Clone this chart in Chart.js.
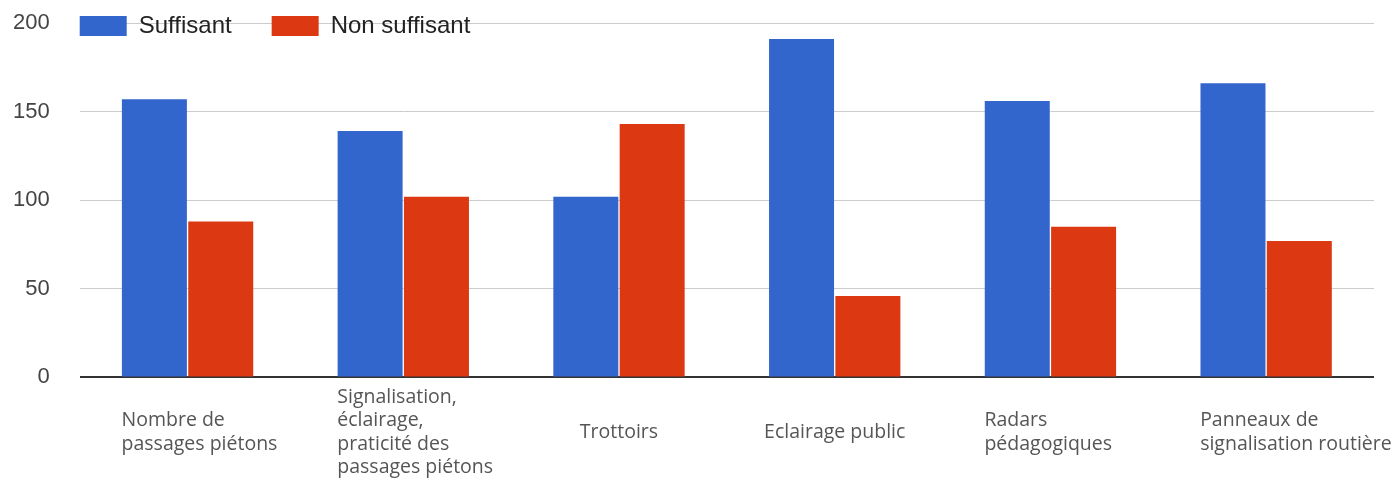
<!DOCTYPE html>
<html>
<head>
<meta charset="utf-8">
<script src="https://cdn.jsdelivr.net/npm/chart.js@4"></script>
<style>
  html, body { margin: 0; padding: 0; background: #fff; }
  #wrap { width: 1399px; height: 481px; position: relative; }
</style>
</head>
<body>
<div id="wrap"><canvas id="chart"></canvas></div>
<script>
const categories = [
  ['Nombre de', 'passages piétons'],
  ['Signalisation,', 'éclairage,', 'praticité des', 'passages piétons'],
  ['Trottoirs'],
  ['Eclairage public'],
  ['Radars', 'pédagogiques'],
  ['Panneaux de', 'signalisation routière']
];
const suffisant = [157, 139, 102, 191, 156, 166];
const nonSuffisant = [88, 102, 143, 46, 85, 77];
const yTicks = [0, 50, 100, 150, 200];

const LABEL_SHIFT = 66;

// legend takes no room and sits on the 200 gridline, inside the plot
const legendNudge = {
  id: 'legendNudge',
  beforeLayout(chart) {
    const lg = chart.legend;
    if (lg && !lg._nudged) {
      const fit = lg.fit;
      lg.fit = function () {
        fit.call(this);
        this._realHeight = this.height;
        this.height = 0;
      };
      lg._nudged = true;
    }
  },
  afterLayout(chart) {
    const lg = chart.legend;
    const pad = lg.options.labels.padding;
    lg.left = chart.chartArea.left - pad;
    lg.right = chart.width;
    lg.top = 26 - pad - 24 / 2;
    lg.bottom = lg.top + lg._realHeight;
    lg.width = lg.right - lg.left;
    lg.height = lg._realHeight;
  }
};

// multi-line labels start at the bar edge, single-line ones are centred
function fitX(s) {
  s.paddingLeft = 0;
  s.paddingRight = 0;
  if (s._labelsWrapped) return;
  const orig = s._computeLabelItems;
  s._computeLabelItems = function (area) {
    const items = orig.call(this, area);
    items.forEach((it, i) => {
      if (categories[i] && categories[i].length === 1) {
        it.options.textAlign = 'center';
        it.options.translation[0] += LABEL_SHIFT;
      }
    });
    return items;
  };
  s._labelsWrapped = true;
}

new Chart(document.getElementById('chart'), {
  type: 'bar',
  data: {
    labels: categories,
    datasets: [{
      label: 'Suffisant',
      data: suffisant,
      backgroundColor: '#3366cc',
      categoryPercentage: 0.615,
      barPercentage: 0.98
    }, {
      label: 'Non suffisant',
      data: nonSuffisant,
      backgroundColor: '#dc3912',
      categoryPercentage: 0.615,
      barPercentage: 0.98
    }]
  },
  options: {
    responsive: true,
    maintainAspectRatio: false,
    animation: false,
    layout: { padding: { left: -17, right: 25, top: 23, bottom: -22 } },
    plugins: {
      legend: {
        position: 'top',
        align: 'start',
        labels: {
          boxWidth: 47,
          boxHeight: 20,
          padding: 40,
          color: '#222',
          font: { family: 'Liberation Sans, Arial', size: 24 }
        }
      },
      tooltip: { enabled: false }
    },
    scales: {
      x: {
        grid: { display: false },
        border: { display: false },
        afterFit: fitX,
        ticks: {
          autoSkip: false,
          maxRotation: 0,
          align: 'start',
          crossAlign: 'center',
          labelOffset: -LABEL_SHIFT,
          padding: 12,
          color: '#555',
          font: { family: 'Open Sans', size: 19.5, lineHeight: 1.2 }
        }
      },
      y: {
        min: 0,
        max: 200,
        afterBuildTicks: axis => { axis.ticks = yTicks.map(v => ({ value: v })); },
        afterFit: s => { s.paddingTop = 0; s.paddingBottom = 0; },
        border: { display: false },
        grid: {
          drawTicks: false,
          color: c => c.tick && c.tick.value === 0 ? '#333' : '#cccccc',
          lineWidth: c => c.tick && c.tick.value === 0 ? 2 : 1
        },
        ticks: {
          padding: 30,
          color: '#444',
          font: { family: 'Liberation Sans, Arial', size: 22 }
        }
      }
    }
  },
  plugins: [legendNudge]
});
</script>
</body>
</html>
